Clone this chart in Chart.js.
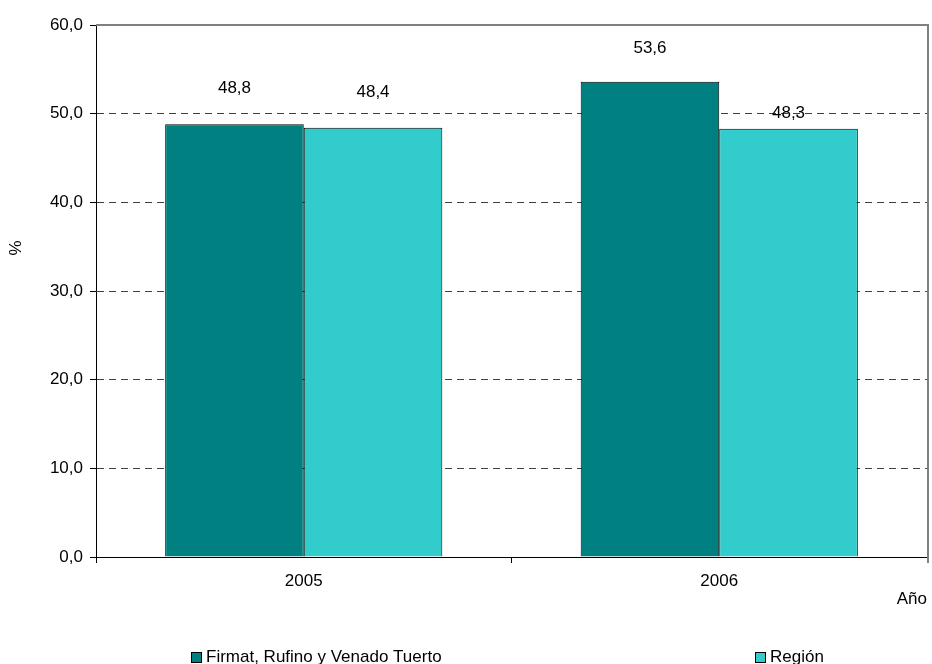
<!DOCTYPE html>
<html>
<head>
<meta charset="utf-8">
<script src="https://cdn.jsdelivr.net/npm/chart.js@4/dist/chart.umd.min.js"></script>
<style>
  html, body { margin: 0; padding: 0; background: #fff; }
  #wrap { width: 932px; height: 664px; }
</style>
</head>
<body>
<div id="wrap"><canvas id="barChart" width="932" height="664"></canvas></div>
<script>
const years = ['2005', '2006'];
const firmatValues = [48.8, 53.6];
const regionValues = [48.4, 48.3];
const seriesNames = ['Firmat, Rufino y Venado Tuerto', 'Región'];

const FONT = 'Liberation Sans, Arial, sans-serif';
const fmt = v => v.toFixed(1).replace('.', ',');

// excel put the value labels at slightly different heights
const labelOffsets = [[36, 33], [36, 15]];

const valueLabels = {
  id: 'valueLabels',
  afterDatasetsDraw(chart) {
    const ctx = chart.ctx;
    ctx.save();
    ctx.font = '17px ' + FONT;
    ctx.fillStyle = '#000';
    ctx.textAlign = 'center';
    ctx.textBaseline = 'middle';
    chart.data.datasets.forEach((ds, i) => {
      chart.getDatasetMeta(i).data.forEach((bar, j) => {
        ctx.fillText(fmt(ds.data[j]), bar.x, bar.y - labelOffsets[i][j]);
      });
    });
    ctx.restore();
  }
};

// gray plot frame (top + right) and the "%" axis title, which sits above centre
const frame = {
  id: 'frame',
  beforeDatasetsDraw(chart) {
    const { ctx, chartArea: a } = chart;
    ctx.save();
    ctx.strokeStyle = '#808080';
    ctx.lineWidth = 2;
    ctx.beginPath();
    ctx.moveTo(a.left, a.top);
    ctx.lineTo(a.right + 1, a.top);
    ctx.lineTo(a.right + 1, a.bottom + 6);
    ctx.stroke();

    ctx.translate(16, 248);
    ctx.rotate(-Math.PI / 2);
    ctx.font = '17px ' + FONT;
    ctx.fillStyle = '#000';
    ctx.textAlign = 'center';
    ctx.textBaseline = 'middle';
    ctx.fillText('%', 0, 0);
    ctx.restore();
  }
};

const bottomLegend = {
  id: 'bottomLegend',
  afterDraw(chart) {
    const ctx = chart.ctx;
    const xs = [191, 755];
    const y = 657;
    ctx.save();
    ctx.font = '17px ' + FONT;
    ctx.textBaseline = 'middle';
    ctx.textAlign = 'left';
    chart.data.datasets.forEach((ds, i) => {
      ctx.fillStyle = ds.backgroundColor;
      ctx.fillRect(xs[i], y - 5, 10, 10);
      ctx.strokeStyle = '#000';
      ctx.lineWidth = 1;
      ctx.strokeRect(xs[i] + 0.5, y - 4.5, 10, 10);
      ctx.fillStyle = '#000';
      ctx.fillText(ds.label, xs[i] + 15, y);
    });
    ctx.restore();
  }
};

const ctx = document.getElementById('barChart').getContext('2d');

new Chart(ctx, {
  type: 'bar',
  data: {
    labels: years,
    datasets: [{
      label: seriesNames[0],
      data: firmatValues,
      backgroundColor: '#008080',
      borderColor: '#000',
      borderWidth: 1
    }, {
      label: seriesNames[1],
      data: regionValues,
      backgroundColor: '#33CCCC',
      borderColor: '#000',
      borderWidth: 1
    }]
  },
  options: {
    responsive: false,
    animation: false,
    events: [],
    layout: { padding: { left: 0, right: 5, top: 25, bottom: 54 } },
    datasets: { bar: { barPercentage: 1, categoryPercentage: 0.667 } },
    plugins: {
      legend: { display: false },
      tooltip: { enabled: false }
    },
    scales: {
      x: {
        afterFit(scale) { scale.height = 53; },
        grid: {
          offset: true,
          drawOnChartArea: false,
          drawTicks: true,
          tickLength: 6,
          tickColor: '#000'
        },
        border: { color: '#000', width: 1 },
        ticks: { color: '#000', padding: 8, font: { family: FONT, size: 17 } },
        title: {
          display: true,
          text: 'Año',
          align: 'end',
          color: '#000',
          padding: { top: 0, bottom: 0 },
          font: { family: FONT, size: 17 }
        }
      },
      y: {
        min: 0,
        max: 60,
        afterFit(scale) { scale.width = 96; },
        grid: {
          color: c => (c.tick && (c.tick.value === 0 || c.tick.value === 60)) ? 'rgba(0,0,0,0)' : '#404040',
          tickBorderDash: [],
          tickColor: '#000',
          tickLength: 6
        },
        border: { color: '#000', width: 1, dash: [7, 5] },
        ticks: {
          stepSize: 10,
          padding: 7,
          color: '#000',
          font: { family: FONT, size: 17 },
          callback: v => fmt(v)
        }
      }
    }
  },
  plugins: [frame, valueLabels, bottomLegend]
});
</script>
</body>
</html>
